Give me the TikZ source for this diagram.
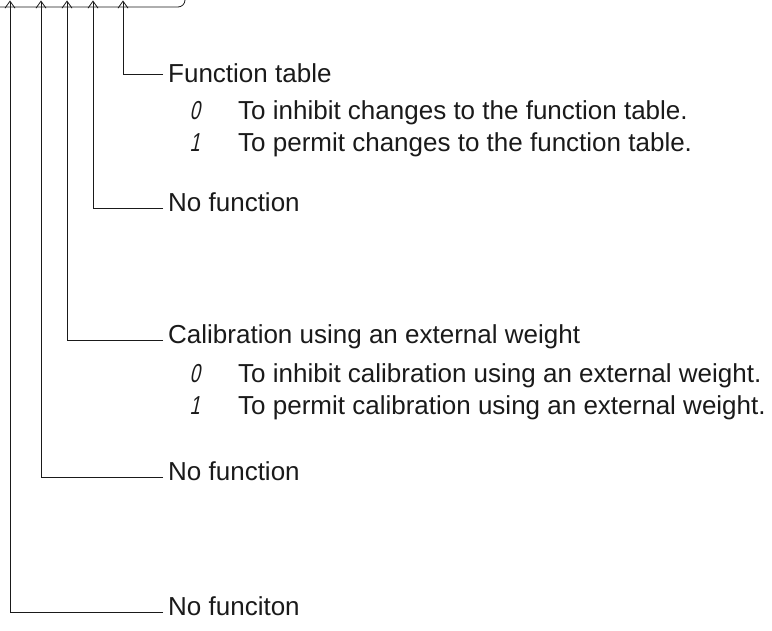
\documentclass[tikz,border=0pt]{standalone}
\usepackage{fontspec}
\setmainfont{Liberation Sans}
\newfontfamily\segfont{Liberation Sans}[FakeSlant=0.22,FakeStretch=0.7]
\usepackage{tikz}
\usetikzlibrary{arrows.meta,positioning}
\definecolor{ink}{HTML}{1A1A1A}
\tikzset{
  lead/.style={draw=ink, line width=0.8pt},
  ar/.style={lead, -{Straight Barb[length=7pt,width=10pt]}},
  hdr/.style={anchor=west, inner xsep=5pt, inner ysep=0pt, text=ink,
              font=\fontsize{26}{30}\selectfont, text height=0.72em, text depth=0pt},
  item/.style={anchor=base west, inner sep=0pt, text=ink,
               font=\fontsize{26}{30}\selectfont},
  digit/.style={anchor=base east, inner sep=0pt, text=ink,
                font=\segfont\fontsize{26}{30}\selectfont},
}

\begin{document}
\begin{tikzpicture}[x=1pt, y=-1pt]
  \useasboundingbox (0,0) rectangle (772,631);

  % --- bottom edge of the display panel ---
  \draw[lead, rounded corners=7pt] (-5,7) -- (185,7) -- (185,-10);

  % --- one heading per digit ---
  \node[hdr] (ftab) at (163,79)  {Function table};
  \node[hdr] (nofa) at (163,208) {No function};
  \node[hdr] (ecal) at (163,340) {Calibration using an external weight};
  \node[hdr] (nofb) at (163,477) {No function};
  \node[hdr] (nofc) at (163,612) {No funciton};

  % --- settings under the headings ---
  \node[digit] (ftz) at (200,120) {0};
  \node[item]  (ftzt) at (238,120) {To inhibit changes to the function table.};
  \node[digit] (fto) at (200,152) {1};
  \node[item]  (ftot) at (238,152) {To permit changes to the function table.};

  \node[digit] (ecz) at (200,382) {0};
  \node[item]  (eczt) at (238,382) {To inhibit calibration using an external weight.};
  \node[digit] (eco) at (200,414) {1};
  \node[item]  (ecot) at (238,414) {To permit calibration using an external weight.};

  % --- leaders up to the digits ---
  \foreach \xv/\nm in {123/ftab, 93/nofa, 67/ecal, 41/nofb, 10/nofc}
    \coordinate (tip\nm) at (\xv,0.5);
  % the first leader meets its heading a little above the middle
  \draw[ar] ([yshift=5pt]ftab.west) -| (tipftab);
  \foreach \nm in {nofa, ecal, nofb, nofc}
    \draw[ar] (\nm.west) -| (tip\nm);
\end{tikzpicture}
\end{document}
